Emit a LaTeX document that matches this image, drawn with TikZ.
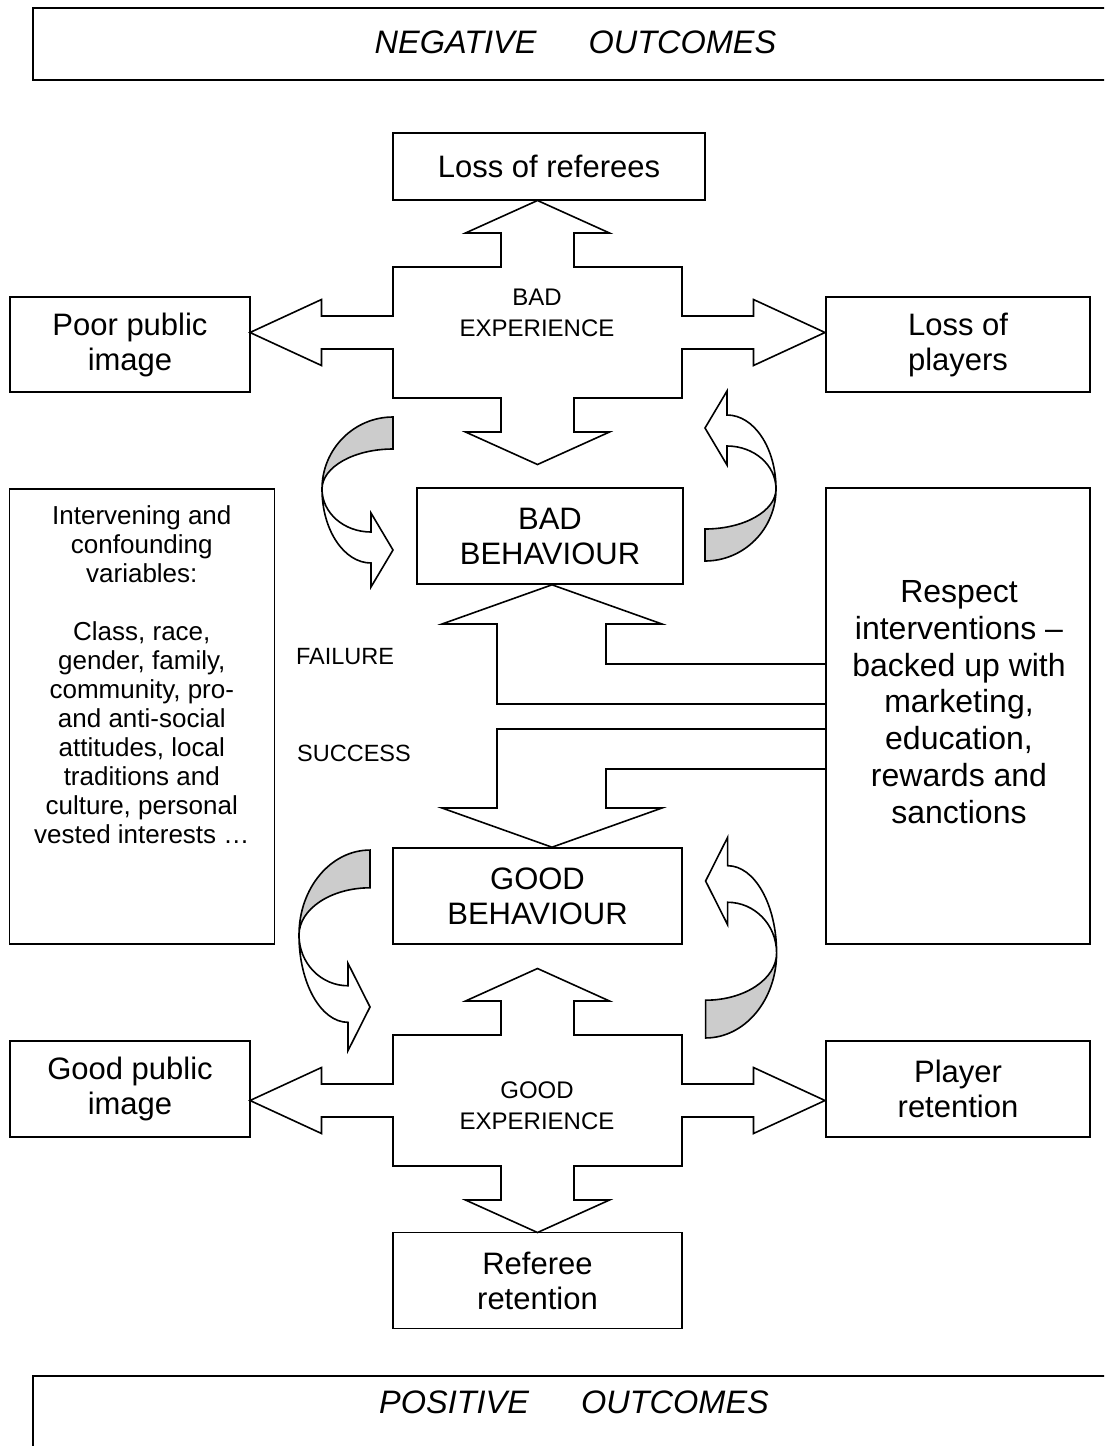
\documentclass[tikz,border=0pt]{standalone}
\usepackage{fontspec}
\setmainfont{Liberation Sans}
\usetikzlibrary{positioning}

\definecolor{backface}{RGB}{204,204,204}

\tikzset{
	outline/.style={draw=black, line width=1.6pt, line join=miter},
	refbox/.style={outline, rectangle, inner sep=0pt, align=center, font=\fontsize{31}{35}\selectfont},
	bandline/.style={draw=black, line width=2.2pt},
	bandtext/.style={font=\fontsize{32.5}{39}\selectfont\itshape, inner sep=0pt},
	hubtext/.style={font=\fontsize{24}{31}\selectfont, align=center, inner sep=0pt},
	sidetext/.style={font=\fontsize{23.5}{28}\selectfont, inner sep=0pt},
	turnarrow/.pic={
		\filldraw [outline, fill=backface] (0,-72) .. controls (-39,-72) and (-71,-40) .. (-71,0)
			.. controls (-71,-22) and (-39,-40) .. (0,-40) -- cycle; % back
		\filldraw [outline, fill=white] (-71,0) .. controls (-71,41) and (-49,74) .. (-22,74)
			-- (-22,98) -- (0,61) -- (-22,24) -- (-22,43)
			.. controls (-49,43) and (-71,24) .. (-71,0) -- cycle; % front
	},
	crossarrow/.pic={
		\draw [outline] (0,-132) -- (72,-99.5) -- (36.5,-99.5) -- (36.5,-65.5) -- (144.5,-65.5)
			-- (144.5,-16.5) -- (216,-16.5) -- (216,-33) -- (287.5,0) -- (216,33) -- (216,16.5)
			-- (144.5,16.5) -- (144.5,65.5) -- (36.5,65.5) -- (36.5,99.5) -- (72,99.5) -- (0,132)
			-- (-72,99.5) -- (-36.5,99.5) -- (-36.5,65.5) -- (-144.5,65.5) -- (-144.5,16.5)
			-- (-216,16.5) -- (-216,33) -- (-287.5,0) -- (-216,-33) -- (-216,-16.5)
			-- (-144.5,-16.5) -- (-144.5,-65.5) -- (-36.5,-65.5) -- (-36.5,-99.5) -- (-72,-99.5) -- cycle;
	}
}

\begin{document}
\begin{tikzpicture}[x=1pt, y=-1pt]
		\useasboundingbox (0,0) rectangle (1104,1446);
		\clip (0,0) rectangle (1104,1446);

		\draw [bandline] (1120,8) -- (33,8) -- (33,80) -- (1120,80); % top
		\node [bandtext, anchor=base] (negative) at (575.5,53) {NEGATIVE\hspace{52pt}OUTCOMES};
		\draw [bandline] (1120,1376) -- (33,1376) -- (33,1470); % bottom
		\node [bandtext, anchor=base] (positive) at (574,1413) {POSITIVE\hspace{52pt}OUTCOMES};

		\node [refbox, minimum width=312pt, minimum height=67pt] (lossref) at (549,166.5) {Loss of referees};
		\node [refbox, minimum width=240pt, minimum height=95pt] (poorimg) at (130,344.5) {Poor public\\image};
		\node [refbox, minimum width=264pt, minimum height=95pt] (lossply) at (958,344.5) {Loss of\\players};
		\node [refbox, minimum width=266pt, minimum height=96pt] (badbeh) at (550,536) {BAD\\BEHAVIOUR};
		\node [refbox, minimum width=265pt, minimum height=455pt] (vars) at (141.8,716.5) {};
		\node [refbox, minimum width=264pt, minimum height=456pt] (respect) at (958,716) {};
		\node [refbox, minimum width=289pt, minimum height=96pt] (goodbeh) at (537.5,896) {GOOD\\BEHAVIOUR};
		\node [refbox, minimum width=240pt, minimum height=96pt] (goodimg) at (130,1089) {Good public\\image};
		\node [refbox, minimum width=264pt, minimum height=96pt] (retply) at (958,1089) {Player\\retention};
		\node [refbox, minimum width=289pt, minimum height=96pt] (retref) at (537.5,1280.5) {Referee\\retention};

		\node [align=center, inner sep=0pt, font=\fontsize{26}{29}\selectfont] (varstext) at (141.8,675)
			{Intervening and\\confounding\\variables:\\[29pt]Class, race,\\gender, family,\\community, pro-\\and anti-social\\attitudes, local\\traditions and\\culture, personal\\vested interests \dots};
		\node [align=center, inner sep=0pt, font=\fontsize{32}{36.8}\selectfont] (respecttext) at (959,702)
			{Respect\\interventions --\\backed up with\\marketing,\\education,\\rewards and\\sanctions};

		% experience crosses
		\coordinate (badhub) at (537.5,332.5);
		\pic at (badhub) {crossarrow};
		\node [hubtext] (badexp) at (537,312.5) {BAD\\EXPERIENCE};
		\coordinate (goodhub) at (537.5,1100.5);
		\pic at (goodhub) {crossarrow};
		\node [hubtext] (goodexp) at (537,1105.5) {GOOD\\EXPERIENCE};

		% turning arrows
		\pic at (393,489) {turnarrow};
		\pic [rotate=180] at (705,489) {turnarrow};
		\pic [yscale=1.18] at (370,935) {turnarrow};
		\pic [rotate=180, yscale=1.18] at (705.6,953) {turnarrow};

		% failure and success
		\draw [outline] (respect.west |- 0,664) -- (606,664) -- (606,624) -- (662,624) -- (badbeh.south -| 552,0)
			-- (442,624) -- (497,624) -- (497,704) -- (respect.west |- 0,704);
		\draw [outline] (respect.west |- 0,729) -- (497,729) -- (497,808) -- (442,808) -- (goodbeh.north -| 552,0)
			-- (662,808) -- (606,808) -- (606,769) -- (respect.west |- 0,769);
		\node [sidetext] (failure) at (345,657) {FAILURE};
		\node [sidetext] (success) at (354,753) {SUCCESS};

\end{tikzpicture}
\end{document}
